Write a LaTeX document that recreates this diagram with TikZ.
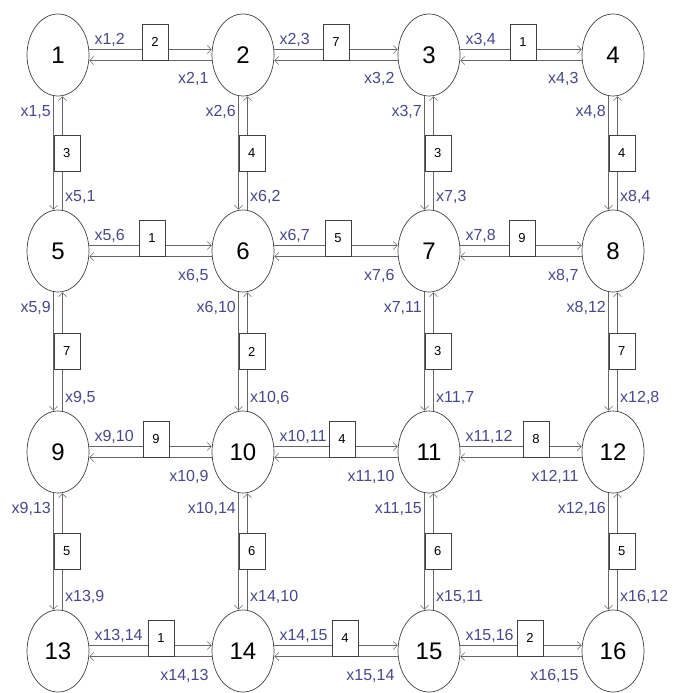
\documentclass[tikz,border=0pt]{standalone}
\usepackage{fontspec}
\setmainfont{Liberation Sans}
\usetikzlibrary{arrows.meta,shapes.geometric}
\definecolor{lbl}{RGB}{72,72,140}
\begin{document}
\begin{tikzpicture}[x=1pt,y=-1pt,
 state/.style={ellipse, draw=black!75, line width=0.7pt, minimum width=62pt, minimum height=82pt, inner sep=0pt, font=\fontsize{24}{24}\selectfont},
 link/.style={draw=black!60, line width=1.2pt, -{Straight Barb[length=4pt,width=8pt,line width=0.6pt]}},
 wbox/.style={draw=black!75, fill=white, line width=0.7pt, minimum width=26pt, minimum height=36pt, inner sep=0pt, font=\fontsize{13}{13}\selectfont},
 lab/.style={text=lbl, inner sep=0pt, font=\fontsize{16}{16}\selectfont}]
\useasboundingbox (0,0) rectangle (686,693);
% nodes
\foreach \n/\x/\y in {1/58/55,2/243/55,3/429/55,4/613/55,
  5/58/251,6/243/251,7/429/251,8/613/251,
  9/58/452,10/243/452,11/429/452,12/613/452,
  13/58/651,14/243/651,15/429/651,16/613/651}
  \node[state] (n\n) at (\x,\y) {\n};
% horizontal links
\foreach \i/\j/\w/\cx/\Y in {1/2/2/155/55, 2/3/7/336/55, 3/4/1/523/55,
  5/6/1/152/251, 6/7/5/338/251, 7/8/9/522/251,
  9/10/9/156/452, 10/11/4/342/452, 11/12/8/536/452,
  13/14/1/161/651, 14/15/4/345/651, 15/16/2/530/651}{
  \draw[link] ([yshift=5.5pt]n\i.east) -- ([yshift=5.5pt]n\j.west);
  \draw[link] ([yshift=-5.5pt]n\j.west) -- ([yshift=-5.5pt]n\i.east);
  \node[wbox, anchor=south] (w\i-\j) at (\cx,\Y+5.5) {\w};
  \node[lab, anchor=base west] (x\i-\j) at ([shift={(5pt,10.5pt)}]n\i.east) {x\i,\j};
  \node[lab, anchor=base east] (x\j-\i) at ([shift={(-3pt,-29pt)}]n\j.west) {x\j,\i};
}
% vertical links
\foreach \i/\j/\w/\X/\cy in {1/5/3/58/153, 2/6/4/243/153, 3/7/3/429/153, 4/8/4/613/153,
  5/9/7/58/351.5, 6/10/2/243/351.5, 7/11/3/429/351.5, 8/12/7/613/351.5,
  9/13/5/58/551.5, 10/14/6/243/551.5, 11/15/6/429/551.5, 12/16/5/613/551.5}{
  \draw[link] ([xshift=-4.5pt]n\i.south) -- ([xshift=-4.5pt]n\j.north);
  \draw[link] ([xshift=4.5pt]n\j.north) -- ([xshift=4.5pt]n\i.south);
  \node[wbox, anchor=west] (w\i-\j) at (\X-4.5,\cy) {\w};
  \node[lab, anchor=base east] (x\i-\j) at ([shift={(-7pt,-20pt)}]n\i.south) {x\i,\j};
  \node[lab, anchor=base west] (x\j-\i) at ([shift={(7pt,8pt)}]n\j.north) {x\j,\i};
}
\end{tikzpicture}
\end{document}
